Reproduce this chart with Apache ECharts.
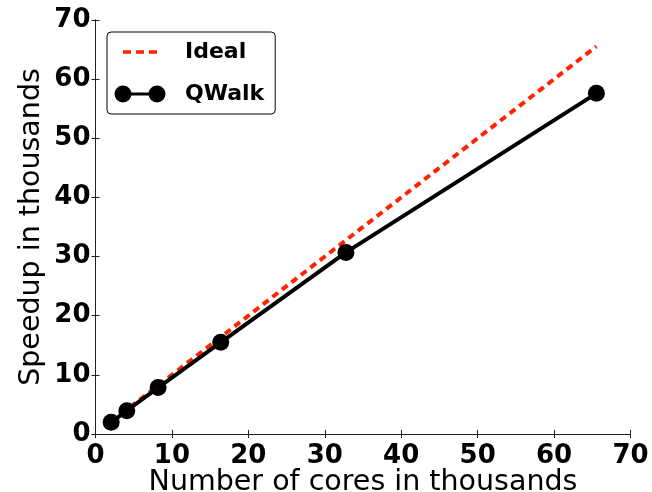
<!DOCTYPE html>
<html>
<head>
<meta charset="utf-8">
<script src="https://cdn.jsdelivr.net/npm/echarts@6/dist/echarts.min.js"></script>
<style>
  html, body { margin: 0; padding: 0; background: #fff; }
  #chart { width: 652px; height: 492px; }
</style>
</head>
<body>
<div id="chart"></div>
<script>
// Cores (thousands) and measured / ideal speedup (thousands)
const cores = [2.048, 4.096, 8.192, 16.384, 32.768, 65.536];
const idealSpeedup = [2.048, 4.096, 8.192, 16.384, 32.768, 65.536];
const qwalkSpeedup = [1.98, 3.95, 7.85, 15.5, 30.7, 57.6];
const seriesNames = ['Ideal', 'QWalk'];
const xTitle = 'Number of cores in thousands';
const yTitle = 'Speedup in thousands';

const FONT = 'DejaVu Sans';
const RED = '#ff2200';

const pairs = (xs, ys) => xs.map((x, i) => [x, ys[i]]);

// legend glyphs drawn in a 52x18 box
const idealIcon = 'path://M0,0Z M52,18Z M9,7.3h8v3.4h-8Z M22,7.3h8v3.4h-8Z M35,7.3h8v3.4h-8Z';
const qwalkIcon = 'path://M0,0Z M52,18Z M0.5,9a8.5,8.5 0 1,1 17,0a8.5,8.5 0 1,1 -17,0Z ' +
  'M34.5,9a8.5,8.5 0 1,1 17,0a8.5,8.5 0 1,1 -17,0Z M9,7.5H43V10.5H9Z';

const tickLabel = { fontFamily: FONT, fontWeight: 'bold', fontSize: 26, color: '#000' };
const titleText = { fontFamily: FONT, fontSize: 28.5, color: '#000' };
const axisLine = { show: true, lineStyle: { color: '#222', width: 1 } };
const axisTick = { show: true, inside: true, length: 4, lineStyle: { color: '#222', width: 1 } };

const chart = echarts.init(document.getElementById('chart'), null, { renderer: 'canvas' });
chart.setOption({
  animation: false,
  backgroundColor: '#fff',
  grid: { left: 95.5, right: 21.5, top: 20, bottom: 58, containLabel: false, outerBoundsMode: 'none' },
  legend: {
    left: 107, top: 32,
    orient: 'vertical',
    padding: [9, 11, 9, 7],
    itemGap: 20,
    itemWidth: 52, itemHeight: 18,
    borderColor: '#000', borderWidth: 1, borderRadius: 4,
    backgroundColor: '#fff',
    itemStyle: { borderWidth: 0 },
    textStyle: { fontFamily: FONT, fontWeight: 'bold', fontSize: 22, color: '#000', lineHeight: 18, padding: [0, 0, 0, 14] },
    data: [
      { name: seriesNames[0], icon: idealIcon },
      { name: seriesNames[1], icon: qwalkIcon }
    ]
  },
  xAxis: [{
    type: 'value', min: 0, max: 70, interval: 10, position: 'bottom',
    name: xTitle, nameLocation: 'middle', nameGap: 34, nameMoveOverlap: false,
    nameTextStyle: titleText,
    axisLine, axisTick, splitLine: { show: false },
    axisLabel: Object.assign({ margin: 9 }, tickLabel)
  }, {
    type: 'value', min: 0, max: 70, interval: 10, position: 'top',
    axisLine, axisTick, splitLine: { show: false }, axisLabel: { show: false }
  }],
  yAxis: [{
    type: 'value', min: 0, max: 70, interval: 10, position: 'left',
    name: yTitle, nameLocation: 'middle', nameGap: 49, nameMoveOverlap: false,
    nameTextStyle: titleText,
    axisLine, axisTick, splitLine: { show: false },
    axisLabel: Object.assign({ margin: 5, padding: [6, 0, 0, 0] }, tickLabel)
  }, {
    type: 'value', min: 0, max: 70, interval: 10, position: 'right',
    axisLine, axisTick, splitLine: { show: false }, axisLabel: { show: false }
  }],
  series: [{
    name: seriesNames[0], type: 'line',
    data: pairs(cores, idealSpeedup),
    showSymbol: false, symbol: 'none',
    itemStyle: { color: RED },
    lineStyle: { color: RED, width: 4, type: [7, 5], cap: 'butt' },
    z: 2
  }, {
    name: seriesNames[1], type: 'line',
    data: pairs(cores, qwalkSpeedup),
    symbol: 'circle', symbolSize: 17,
    itemStyle: { color: '#000' },
    lineStyle: { color: '#000', width: 4 },
    z: 3
  }]
});
</script>
</body>
</html>
